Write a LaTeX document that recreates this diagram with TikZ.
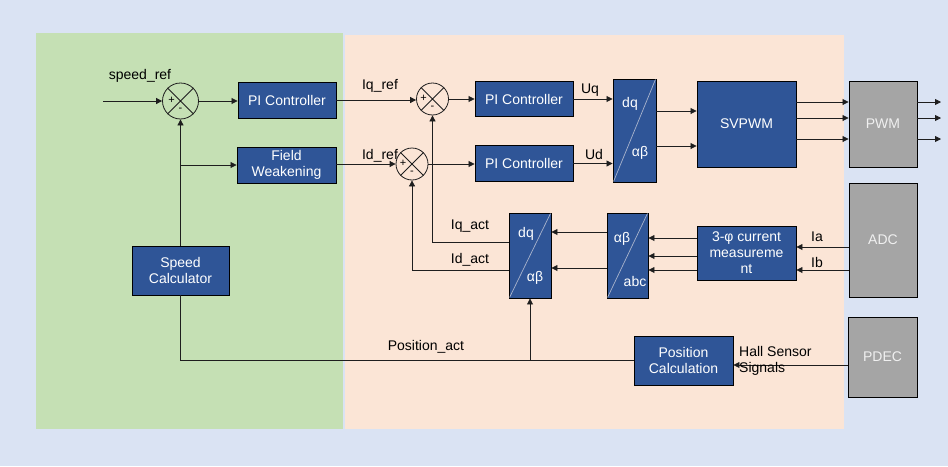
\documentclass[tikz,border=0pt]{standalone}
\usepackage{fontspec}
\setmainfont{Liberation Sans}
\usetikzlibrary{arrows.meta,calc}
\definecolor{bgblue}{HTML}{DAE3F3}
\definecolor{greenbg}{HTML}{C5E0B4}
\definecolor{peachbg}{HTML}{FBE5D6}
\definecolor{boxblue}{HTML}{2F5597}
\definecolor{boxgray}{HTML}{A5A5A5}
\definecolor{linec}{HTML}{1E1E1E}
\definecolor{diagc}{HTML}{A9B4CC}
\begin{document}
\begin{tikzpicture}[x=1pt,y=-1pt,
  font=\fontsize{14}{16}\selectfont,
  blk/.style={draw=black, line width=0.9pt, fill=boxblue, text=white, align=center, inner sep=0pt},
  gblk/.style={draw=black, line width=0.9pt, fill=boxgray, text=white!94!black, align=center, inner sep=0pt},
  sumc/.style={circle, draw=linec, line width=0.8pt, minimum size=#1, inner sep=0pt},
  sumc/.default=32pt,
  conn/.style={draw=linec, line width=0.8pt},
  arr/.style={conn, -{Triangle[length=6pt,width=6pt]}},
  lbl/.style={text=black, inner sep=0pt},
  sgn/.style={text=black, inner sep=0pt, font=\fontsize{11}{11}\selectfont},
  diag/.style={draw=diagc, line width=0.7pt}
]
\useasboundingbox (0,0) rectangle (948,466);
\fill[bgblue] (0,0) rectangle (948,466);
\fill[greenbg] (36,33) rectangle (343,429);
\fill[peachbg] (345,35) rectangle (844,429);

% ---- nodes ----
\node[sumc=36pt] (s1) at (180.5,101) {};
\node[blk, minimum width=98pt, minimum height=36pt] (pi1) at (287,100) {PI Controller};
\node[blk, minimum width=99pt, minimum height=36pt] (fw) at (286.5,165) {Field\\Weakening};
\node[blk, minimum width=97pt, minimum height=49pt] (sc) at (180.5,270.5) {Speed\\Calculator};

\node[sumc] (s2) at (432.5,99) {};
\node[sumc] (s3) at (412,164) {};
\node[blk, minimum width=98pt, minimum height=35pt] (pi2) at (524,99) {PI Controller};
\node[blk, minimum width=98pt, minimum height=36pt] (pi3) at (524,163.5) {PI Controller};
\node[blk, minimum width=43pt, minimum height=103pt] (dq1) at (634.5,130.5) {};
\node[blk, minimum width=99pt, minimum height=86pt] (svpwm) at (746.5,124) {SVPWM};
\node[gblk, minimum width=68pt, minimum height=86pt] (pwm) at (883,124) {PWM};
\node[gblk, minimum width=68pt, minimum height=114pt] (adc) at (883,240) {ADC};
\node[gblk, minimum width=69pt, minimum height=80pt] (pdec) at (882.5,357) {PDEC};
\node[blk, minimum width=99pt, minimum height=54pt] (cm) at (746.5,253) {3-φ current\\measureme\\nt};
\node[blk, minimum width=41pt, minimum height=85pt] (ab) at (627.5,255.5) {};
\node[blk, minimum width=42pt, minimum height=85pt] (dq2) at (530,255.5) {};
\node[blk, minimum width=99pt, minimum height=49pt] (pc) at (683.5,360.5) {Position\\Calculation};

% sum circle crosses and signs
\foreach \s in {s1,s2,s3}{
  \draw[conn] (\s.north west) -- (\s.south east) (\s.north east) -- (\s.south west);
  \node[sgn] at ($(\s.center)+(-9,-1)$) {+};
  \node[sgn] at ($(\s.center)+(0,9)$) {-};
}

% transform block diagonals and texts
\draw[diag] ($(dq1.south west)+(1,-1)$) -- ($(dq1.north east)+(-1,1)$);
\node[text=white, inner sep=0pt] at ($(dq1.center)+(-4.5,-27)$) {dq};
\node[text=white, inner sep=0pt] at ($(dq1.center)+(5.5,22.5)$) {αβ};
\draw[diag] ($(dq2.south west)+(1,-1)$) -- ($(dq2.north east)+(-1,1)$);
\node[text=white, inner sep=0pt] at ($(dq2.center)+(-4,-21.5)$) {dq};
\node[text=white, inner sep=0pt] at ($(dq2.center)+(5,22.5)$) {αβ};
\draw[diag] ($(ab.south west)+(1,-1)$) -- ($(ab.north east)+(-1,1)$);
\node[text=white, inner sep=0pt] at ($(ab.center)+(-5.5,-16.5)$) {αβ};
\node[text=white, inner sep=0pt] at ($(ab.center)+(7.5,25.5)$) {abc};

% ---- coordinates ----
\coordinate (sref) at (103,101);
\coordinate (o1) at (941,102);
\coordinate (o2) at (941,118);
\coordinate (o3) at (941,139);

% ---- connectors ----
\draw[arr] (sref) -- (s1.west);
\draw[arr] (s1.east) -- (s1.east -| pi1.west);
\draw[arr] (sc.north) -- (s1.south);
\draw[arr] (s1.south |- fw.west) -- (fw.west);

\draw[arr] (pi1.east) -- (pi1.east -| s2.west);
\draw[arr] (fw.east |- s3.west) -- (s3.west);
\draw[arr] (s2.east) -- (s2.east -| pi2.west);
\draw[arr] (s3.east) -- (s3.east -| pi3.west);
\draw[arr] (pi2.east) -- (pi2.east -| dq1.west);
\draw[arr] (pi3.east) -- (pi3.east -| dq1.west);

\draw[arr] (dq1.east |- 0,111) -- (svpwm.west |- 0,111);
\draw[arr] (dq1.east |- 0,146) -- (svpwm.west |- 0,146);

\draw[arr] (svpwm.east |- o1) -- (pwm.west |- o1);
\draw[arr] (svpwm.east |- o2) -- (pwm.west |- o2);
\draw[arr] (svpwm.east |- o3) -- (pwm.west |- o3);
\draw[arr] (pwm.east |- o1) -- (o1);
\draw[arr] (pwm.east |- o2) -- (o2);
\draw[arr] (pwm.east |- o3) -- (o3);

\draw[arr] (adc.west |- 0,247) -- (cm.east |- 0,247);
\draw[arr] (adc.west |- 0,270) -- (cm.east |- 0,270);

\draw[arr] (cm.west |- 0,238) -- (ab.east |- 0,238);
\draw[arr] (cm.west |- 0,256) -- (ab.east |- 0,256);
\draw[arr] (cm.west |- 0,270) -- (ab.east |- 0,270);

\draw[arr] (ab.west |- 0,232) -- (dq2.east |- 0,232);
\draw[arr] (ab.west |- 0,268) -- (dq2.east |- 0,268);

\draw[arr] (dq2.west |- 0,242) -| (s2.south);
\draw[arr] (dq2.west |- 0,270) -| (s3.south);

\draw[arr] (pdec.west |- 0,365) -- (pc.east |- 0,365);
\draw[conn] (pc.west) -| (sc.south);
\draw[arr] (dq2.south |- pc.west) -- (dq2.south);

% ---- labels ----
\node[lbl] at (140,76) {speed\_ref};
\node[lbl] at (380,86) {Iq\_ref};
\node[lbl] at (380,156) {Id\_ref};
\node[lbl] at (590,90) {Uq};
\node[lbl] at (594,154) {Ud};
\node[lbl] at (470,226) {Iq\_act};
\node[lbl] at (470,260) {Id\_act};
\node[lbl] at (817,237) {Ia};
\node[lbl] at (817,262) {Ib};
\node[lbl] at (426,347) {Position\_act};
\node[lbl, anchor=west, align=left] at (739,361) {Hall Sensor\\Signals};
\end{tikzpicture}
\end{document}
